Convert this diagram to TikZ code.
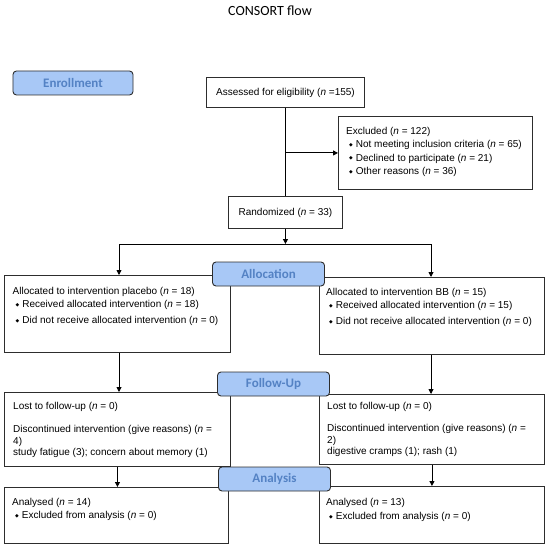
\documentclass[tikz,border=0pt]{standalone}
\usepackage{fontspec}
\setmainfont{Liberation Sans}
\newfontfamily\calfont{Carlito}
\newfontfamily\djv{DejaVu Sans}
\usetikzlibrary{arrows.meta}
\definecolor{hdrfill}{RGB}{168,200,246}
\definecolor{hdrtext}{RGB}{84,130,196}
\definecolor{boxline}{RGB}{45,45,45}
\newcommand\bul{\hspace*{3bp}{\djv\fontsize{4.8bp}{5bp}\selectfont\raisebox{1.2bp}{◆}}\hspace{3bp}}
\begin{document}
\begin{tikzpicture}[x=1bp,y=-1bp,
  box/.style={draw=boxline, line width=0.9bp, inner sep=0, anchor=north west, fill=white},
  cbox/.style={draw=boxline, line width=0.9bp, inner sep=0, fill=white, font=\fontsize{10bp}{12bp}\selectfont},
  hdr/.style={draw=boxline, fill=hdrfill, rounded corners=3.5bp, line width=0.9bp, text=hdrtext,
    font=\calfont\bfseries\fontsize{13bp}{15bp}\selectfont, inner sep=0, minimum width=112bp, minimum height=24bp},
  txt/.style={anchor=base west, inner sep=0, font=\fontsize{10bp}{12bp}\selectfont},
  arr/.style={-{Triangle[length=5bp,width=5bp]}, line width=0.9bp, draw=black},
  ln/.style={line width=0.9bp, draw=black}]
\useasboundingbox (0,0) rectangle (549,550);

\node[font=\calfont\fontsize{14bp}{16bp}\selectfont, inner sep=0] (title) at (270,11) {CONSORT flow};

% content boxes
\node[cbox, anchor=north west, minimum width=158bp, minimum height=30bp] (assess) at (206,77) {Assessed for eligibility (\textit{n} =155)};
\node[box, minimum width=194bp, minimum height=73bp] (excl) at (338,116) {};
\node[cbox, anchor=north west, minimum width=114bp, minimum height=32bp] (rand) at (228,196) {Randomized (\textit{n} = 33)};
\node[box, minimum width=226bp, minimum height=77bp] (alloL) at (4,275) {};
\node[box, minimum width=225bp, minimum height=77bp] (alloR) at (319,277) {};
\node[box, minimum width=226bp, minimum height=74bp] (folL) at (4,392) {};
\node[box, minimum width=225bp, minimum height=70bp] (folR) at (319,394) {};
\node[box, minimum width=224bp, minimum height=56bp] (anaL) at (4,487) {};
\node[box, minimum width=225bp, minimum height=57bp] (anaR) at (319,486) {};

% texts
\node[txt] (ex1) at (346,134.6) {Excluded (\textit{n} = 122)};
\node[txt] (ex2) at (346,147.9) {\bul Not meeting inclusion criteria (\textit{n} = 65)};
\node[txt] (ex3) at (346,161.2) {\bul Declined to participate (\textit{n} = 21)};
\node[txt] (ex4) at (346,174.5) {\bul Other reasons (\textit{n} = 36)};

\node[txt] (al1) at (12.5,294.6) {Allocated to intervention placebo (\textit{n} = 18)};
\node[txt] (al2) at (12.5,307.8) {\bul Received allocated intervention (\textit{n} = 18)};
\node[txt] (al3) at (12.5,323.4) {\bul Did not receive allocated intervention (\textit{n} = 0)};

\node[txt] (ar1) at (326,295.6) {Allocated to intervention BB (\textit{n} = 15)};
\node[txt] (ar2) at (326,308.8) {\bul Received allocated intervention (\textit{n} = 15)};
\node[txt] (ar3) at (326,324.4) {\bul Did not receive allocated intervention (\textit{n} = 0)};

\node[txt] (fl1) at (13,409.6) {Lost to follow-up (\textit{n} = 0)};
\node[txt] (fl2) at (13,432.6) {Discontinued intervention (give reasons) (\textit{n} =};
\node[txt] (fl3) at (13,444.1) {4)};
\node[txt] (fl4) at (13,455.6) {study fatigue (3); concern about memory (1)};

\node[txt] (fr1) at (327,409.6) {Lost to follow-up (\textit{n} = 0)};
\node[txt] (fr2) at (327,431.6) {Discontinued intervention (give reasons) (\textit{n} =};
\node[txt] (fr3) at (327,443.1) {2)};
\node[txt] (fr4) at (327,454.6) {digestive cramps (1); rash (1)};

\node[txt] (nl1) at (12,505.6) {Analysed (\textit{n} = 14)};
\node[txt] (nl2) at (12,518.8) {\bul Excluded from analysis (\textit{n} = 0)};
\node[txt] (nr1) at (326,505.6) {Analysed (\textit{n} = 13)};
\node[txt] (nr2) at (326,519.4) {\bul Excluded from analysis (\textit{n} = 0)};

% connectors
\draw[ln] (assess.south) -- (rand.north);
\draw[arr] (assess.south |- excl.west) -- (excl.west);
\coordinate (split) at (rand.south |- 0,244);
\coordinate (sl) at (119,244);
\coordinate (sr) at (431,244);
\draw[arr] (rand.south) -- (split);
\draw[ln] (sl) -- (sr);
\draw[arr] (sl) -- (sl |- alloL.north);
\draw[arr] (sr) -- (sr |- alloR.north);
\draw[arr] (sl |- alloL.south) -- (sl |- folL.north);
\draw[arr] (sr |- alloR.south) -- (sr |- folR.north);
\draw[arr] (folL.south) -- (folL.south |- anaL.north);
\draw[arr] (folR.south) -- (folR.south |- anaR.north);

% stage headers
\node[hdr, minimum width=120bp] (enrol) at (73,83) {Enrollment};
\node[hdr] (alloc) at (268.5,274) {Allocation};
\node[hdr] (follow) at (273.5,384) {Follow-Up};
\node[hdr] (analysis) at (274.5,479) {Analysis};
\end{tikzpicture}
\end{document}
